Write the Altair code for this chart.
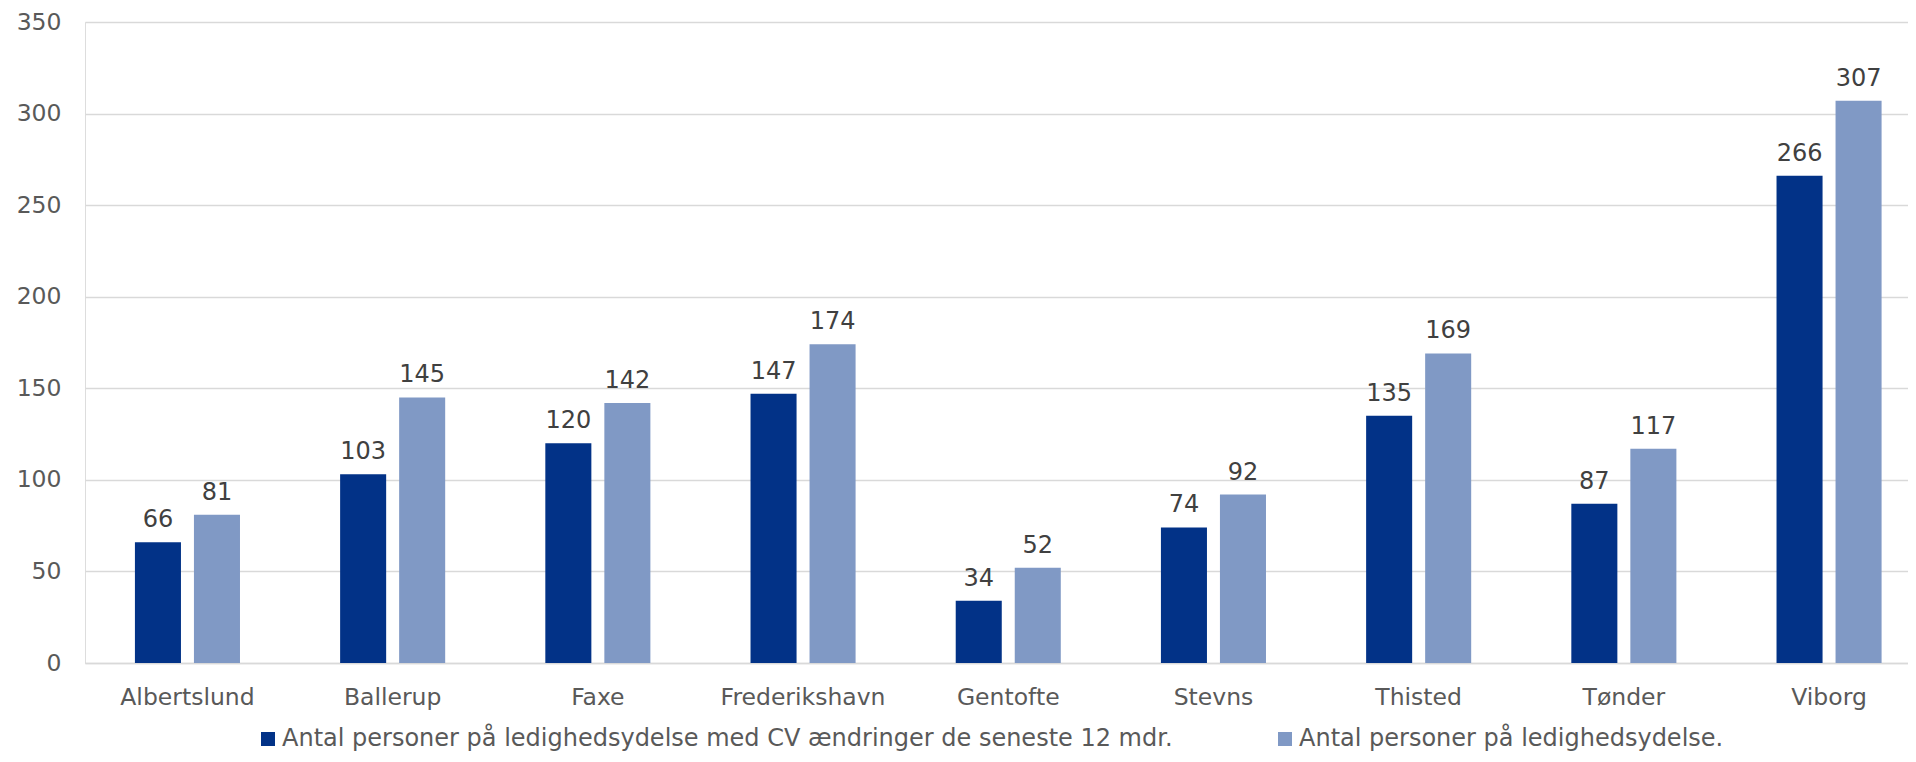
import altair as alt
import pandas as pd

kommuner = ["Albertslund", "Ballerup", "Faxe", "Frederikshavn", "Gentofte",
            "Stevns", "Thisted", "Tønder", "Viborg"]
serie_cv = "Antal personer på ledighedsydelse med CV ændringer de seneste 12 mdr."
serie_alle = "Antal personer på ledighedsydelse."
vaerdier_cv = [66, 103, 120, 147, 34, 74, 135, 87, 266]
vaerdier_alle = [81, 145, 142, 174, 52, 92, 169, 117, 307]

serier = [serie_cv, serie_alle]
farver = ["#023287", "#8099C5"]

rows = []
for k, a, b in zip(kommuner, vaerdier_cv, vaerdier_alle):
    rows.append({"Kommune": k, "Serie": serie_cv, "Antal": a})
    rows.append({"Kommune": k, "Serie": serie_alle, "Antal": b})
df = pd.DataFrame(rows)

FONT = "DejaVu Sans"

x = alt.X("Kommune:N", sort=kommuner, title=None,
          scale=alt.Scale(paddingInner=0.488, paddingOuter=0.186, align=0.654),
          axis=alt.Axis(labelAngle=0, labelFontSize=23.5, labelColor="#595959",
                        labelFont=FONT, ticks=False, domainColor="#d9d9d9",
                        domainWidth=1.5, labelPadding=22, grid=False))
xo = alt.XOffset("Serie:N", sort=serier,
                 scale=alt.Scale(paddingInner=0.22, paddingOuter=0))
y = alt.Y("Antal:Q", title=None,
          scale=alt.Scale(domain=[0, 350], nice=False),
          axis=alt.Axis(values=[0, 50, 100, 150, 200, 250, 300, 350],
                        labelFontSize=23.5, labelColor="#595959", labelFont=FONT,
                        ticks=False, domain=False, gridColor="#d9d9d9",
                        gridWidth=1.5, labelPadding=24))

base = alt.Chart(df).encode(x=x, xOffset=xo, y=y)

bars = base.mark_bar().encode(
    color=alt.Color("Serie:N", sort=serier,
                    scale=alt.Scale(domain=serier, range=farver),
                    legend=alt.Legend(title=None, orient="none", legendX=171, legendY=705,
                                      direction="horizontal",
                                      columns=2, columnPadding=100, labelFontSize=24,
                                      labelFont=FONT, labelColor="#595959",
                                      labelLimit=2000, symbolType="square",
                                      symbolSize=196, symbolStrokeWidth=0,
                                      labelOffset=2, padding=0))
)

labels = base.mark_text(baseline="bottom", dy=-10, fontSize=24, font=FONT,
                        color="#404040").encode(text=alt.Text("Antal:Q"))

chart = (bars + labels).properties(
    width=1823, height=641,
    autosize=alt.AutoSizeParams(type="none"),
    padding={"left": 77, "top": 14, "right": 0, "bottom": 91},
).configure_view(stroke=None).configure(background="white")

chart.save("out.html", embed_options={"renderer": "svg", "actions": False})
